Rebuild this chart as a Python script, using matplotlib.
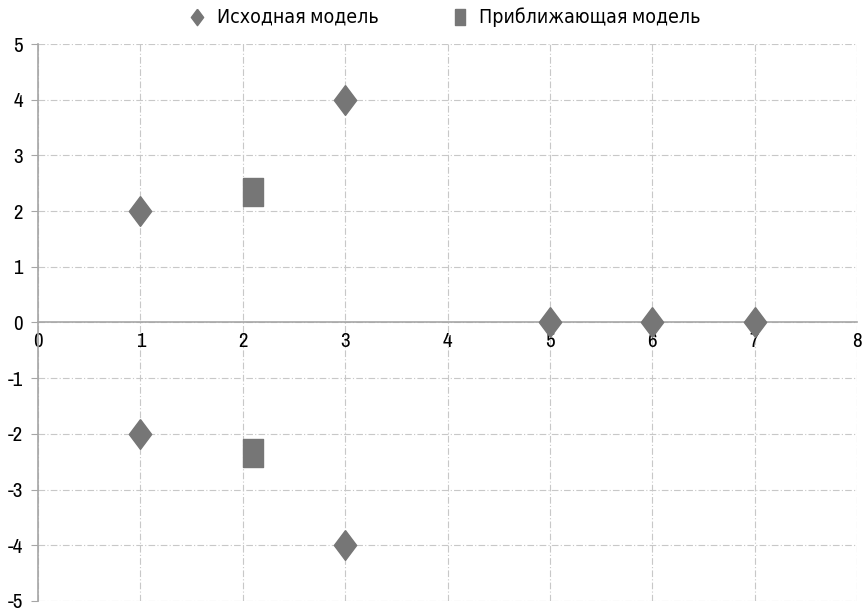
import numpy as np
import matplotlib.pyplot as plt
from matplotlib import font_manager

# pick a narrow font if one is installed
names = sorted({f.name for f in font_manager.fontManager.ttflist})
narrow = [n for n in names if 'Narrow' in n or 'Condensed' in n]
plt.rcParams['font.family'] = narrow[:1] + ['DejaVu Sans']
plt.rcParams['font.stretch'] = 'condensed'
plt.rcParams['axes.unicode_minus'] = False

# data
src_x = [1, 1, 3, 3, 5, 6, 7]
src_y = [2, -2, 4, -4, 0, 0, 0]
app_x = [2.1, 2.1]
app_y = [2.35, -2.35]
series_names = ['Исходная модель', 'Приближающая модель']

gray = '#767676'
grid_c = '#c8c8c8'
axis_c = '#a6a6a6'

fig = plt.figure(figsize=(8.66, 6.13), dpi=100)
ax = fig.add_axes([0.0439, 0.0196, 0.9457, 0.9086])

# marker shapes a bit taller than wide like the original
diamond = [(0, 1), (0.75, 0), (0, -1), (-0.75, 0), (0, 1)]
rect = [(-0.7, 1), (0.7, 1), (0.7, -1), (-0.7, -1), (-0.7, 1)]

ax.scatter(src_x, src_y, marker=diamond, s=460, color=gray, zorder=3, label=series_names[0])
ax.scatter(app_x, app_y, marker=rect, s=420, color=gray, zorder=3, label=series_names[1])

ax.set_xlim(0, 8)
ax.set_ylim(-5, 5)
ax.set_xticks(range(0, 9))
ax.set_yticks(range(-5, 6))

ax.grid(True, color=grid_c, linestyle=(0, (6, 2, 1, 2)), linewidth=0.8)
ax.set_axisbelow(True)

for s in ['top', 'right']:
    ax.spines[s].set_visible(False)
ax.spines['left'].set_color(axis_c)
ax.spines['bottom'].set_color(axis_c)
ax.spines['bottom'].set_position(('data', 0))
ax.spines['left'].set_linewidth(1.2)
ax.spines['bottom'].set_linewidth(1.2)

ax.tick_params(axis='y', length=5, color=axis_c, labelsize=15, pad=6)
ax.tick_params(axis='x', length=0, labelsize=15, pad=7)

leg = ax.legend(loc='lower center', bbox_to_anchor=(0.49, 1.0), ncol=2, frameon=False,
                fontsize=14, handletextpad=0.0, columnspacing=3.2, markerscale=0.55)

fig.savefig('out.png', dpi=100)
